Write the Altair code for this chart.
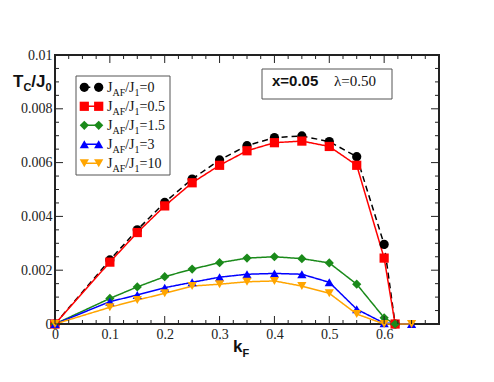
import altair as alt
import pandas as pd
import numpy as np

# ---------------- data ----------------
keys = ["0", "0.5", "1.5", "3", "10"]
kF_main = [0, 0.1, 0.15, 0.2, 0.25, 0.3, 0.35, 0.4, 0.45, 0.5, 0.55, 0.6]
kF_end = [0.62, 0.62, 0.62, 0.65, 0.65]
tc_0 = [0, 0.00238, 0.0035, 0.00452, 0.00539, 0.0061, 0.00663, 0.00693, 0.00699, 0.00678, 0.00622, 0.00296, 0]
tc_05 = [0, 0.0023, 0.0034, 0.00439, 0.00525, 0.0059, 0.00644, 0.00674, 0.0068, 0.0066, 0.0059, 0.00245, 0]
tc_15 = [0, 0.00095, 0.00138, 0.00176, 0.00204, 0.00228, 0.00245, 0.0025, 0.00243, 0.00227, 0.00148, 0.00023, 0]
tc_3 = [0, 0.00083, 0.00108, 0.00135, 0.00155, 0.00174, 0.00185, 0.00188, 0.00185, 0.00155, 0.00055, 0.00003, 0]
tc_10 = [0, 0.00062, 0.00089, 0.00114, 0.00141, 0.00148, 0.00157, 0.0016, 0.00141, 0.00114, 0.00037, 0.0, 0]
all_tc = [tc_0, tc_05, tc_15, tc_3, tc_10]

x_labels = [0, 0.1, 0.2, 0.3, 0.4, 0.5, 0.6]
y_labels = [0, 0.002, 0.004, 0.006, 0.008, 0.01]

colors = ["#000000", "#ff0000", "#1a8a1a", "#0000ff", "#ffa500"]
shapes = ["circle", "square", "diamond", "triangle-up", "triangle-down"]
dashes = [[6, 4], [1, 0], [1, 0], [1, 0], [1, 0]]

W, H = 384, 269
SERIF = "Liberation Serif"
SANS = "Liberation Sans"

rows = []
for k, tc, xe in zip(keys, all_tc, kF_end):
    xs = kF_main + [xe]
    for x, y in zip(xs, tc):
        rows.append({"s": k, "kF": x, "tc": y})
df = pd.DataFrame(rows)

xscale = alt.Scale(domain=[0, 0.7], nice=False, zero=False)
yscale = alt.Scale(domain=[0, 0.01], nice=False, zero=False)
cscale = alt.Scale(domain=keys, range=colors)
sscale = alt.Scale(domain=keys, range=shapes)
dscale = alt.Scale(domain=keys, range=dashes)

axis_common = dict(domain=False, ticks=False, grid=False, labelFont=SERIF,
                   labelFontSize=14, labelColor="#222222", labelPadding=3,
                   labelFlush=False)
xaxis = alt.Axis(values=x_labels, format=".1~f", **axis_common)
yaxis = alt.Axis(values=y_labels, format=".3~f", **axis_common)

X = alt.X("kF:Q", scale=xscale, title=None, axis=xaxis)
Y = alt.Y("tc:Q", scale=yscale, title=None, axis=yaxis)
C = alt.Color("s:N", scale=cscale, legend=None)
S = alt.Shape("s:N", scale=sscale, legend=None)
D = alt.StrokeDash("s:N", scale=dscale, legend=None)

lines = alt.Chart(df).mark_line(strokeWidth=1.5).encode(x=X, y=Y, color=C, strokeDash=D, detail="s:N")
points = alt.Chart(df).mark_point(filled=True, size=85, opacity=1).encode(x=X, y=Y, color=C, shape=S)

# ---------------- inward ticks on all four sides ----------------
ymaj = np.round(np.arange(0, 0.01 + 1e-9, 0.002), 6)
ymin = np.round(np.arange(0, 0.01 + 1e-9, 0.0005), 6)
xmaj = np.round(np.arange(0, 0.7 + 1e-9, 0.1), 6)
xmin = np.round(np.arange(0, 0.7 + 1e-9, 0.025), 6)

def tick_len(v, majors):
    return 8 if np.any(np.isclose(v, majors)) else 4

ytk = []
for v in ymin:
    L = tick_len(v, ymaj)
    ytk.append({"tc": v, "a": 0, "b": L})
    ytk.append({"tc": v, "a": W, "b": W - L})
xtk = []
for v in xmin:
    L = tick_len(v, xmaj)
    xtk.append({"kF": v, "a": H, "b": H - L})
    xtk.append({"kF": v, "a": 0, "b": L})

yticks = alt.Chart(pd.DataFrame(ytk)).mark_rule(color="#222222", strokeWidth=1).encode(
    y=Y,
    x=alt.X("a:Q", scale=None, axis=None), x2="b:Q")
xticks = alt.Chart(pd.DataFrame(xtk)).mark_rule(color="#222222", strokeWidth=1).encode(
    x=X,
    y=alt.Y("a:Q", scale=None, axis=None), y2="b:Q")

# ---------------- boxes (legend and annotation) ----------------
boxes = pd.DataFrame([
    {"x0": 21, "x1": 115, "y0": 21, "y1": 120},
    {"x0": 207, "x1": 337, "y0": 14, "y1": 44},
])
box = alt.Chart(boxes).mark_rect(fill="white", stroke="#555555", strokeWidth=1).encode(
    x=alt.X("x0:Q", scale=None, axis=None), x2="x1:Q",
    y=alt.Y("y0:Q", scale=None, axis=None), y2="y1:Q")

# ---------------- custom legend ----------------
row_y0, row_dy = 32.3, 19.0
mx0, mx1 = 29.3, 43.7
leg = []
for i, k in enumerate(keys):
    yy = row_y0 + i * row_dy
    leg.append({"s": k, "px": mx0, "py": yy})
    leg.append({"s": k, "px": mx1, "py": yy})
legdf = pd.DataFrame(leg)
LX = alt.X("px:Q", scale=None, axis=None)
LY = alt.Y("py:Q", scale=None, axis=None)
leg_lines = alt.Chart(legdf).mark_line(strokeWidth=1.5).encode(x=LX, y=LY, color=C, strokeDash=D, detail="s:N")
leg_points = alt.Chart(legdf).mark_point(filled=True, size=85, opacity=1).encode(x=LX, y=LY, color=C, shape=S)

times_w = {"J": .389, "A": .722, "F": .556, "/": .278, "1": .5, "=": .564, "0": .5, ".": .25,
           "5": .5, "3": .5, "λ": .549}
arialb_w = {"T": .611, "C": .722, "/": .278, "J": .556, "0": .556, "k": .556, "F": .611,
            "x": .556, "=": .584, ".": .278, "5": .556}

def build(parts, x0, base, main, sub, widths, drop):
    out = []
    x = x0
    for txt, is_sub in parts:
        sz = sub if is_sub else main
        out.append({"t": txt, "px": x, "py": base + (drop if is_sub else 0), "sz": sz})
        x += sum(widths.get(ch, .5) for ch in txt) * sz
    return out

serif_txt = []
for i, k in enumerate(keys):
    yy = row_y0 + i * row_dy
    serif_txt += build([("J", False), ("AF", True), ("/J", False), ("1", True), ("=" + k, False)],
                       52, yy + 5, 14, 10, times_w, 4)
serif_txt += build([("λ=0.50", False)], 279, 31, 15, 15, times_w, 0)

sans_txt = []
sans_txt += build([("T", False), ("C", True), ("/J", False), ("0", True)], -42, 32, 17, 11, arialb_w, 4)
sans_txt += build([("k", False), ("F", True)], 178, 297, 17, 11, arialb_w, 5)
sans_txt += build([("x=0.05", False)], 217, 31, 15, 15, arialb_w, 0)

TX = alt.X("px:Q", scale=None, axis=None)
TY = alt.Y("py:Q", scale=None, axis=None)
serif_layer = alt.Chart(pd.DataFrame(serif_txt)).mark_text(
    font=SERIF, align="left", baseline="alphabetic", color="#111111").encode(
    x=TX, y=TY, text="t:N", size=alt.Size("sz:Q", scale=None, legend=None))
sans_layer = alt.Chart(pd.DataFrame(sans_txt)).mark_text(
    font=SANS, fontWeight="bold", align="left", baseline="alphabetic", color="#111111").encode(
    x=TX, y=TY, text="t:N", size=alt.Size("sz:Q", scale=None, legend=None))

chart = alt.layer(
    lines, points, yticks, xticks, box, leg_lines, leg_points, serif_layer, sans_layer
).properties(
    width=W, height=H,
    autosize=alt.AutoSizeParams(type="none"),
    padding={"left": 47, "top": 47, "right": 47, "bottom": 50},
).configure_view(stroke="#222222", strokeWidth=2)

chart.save("out.html", embed_options={"renderer": "svg", "actions": False})
